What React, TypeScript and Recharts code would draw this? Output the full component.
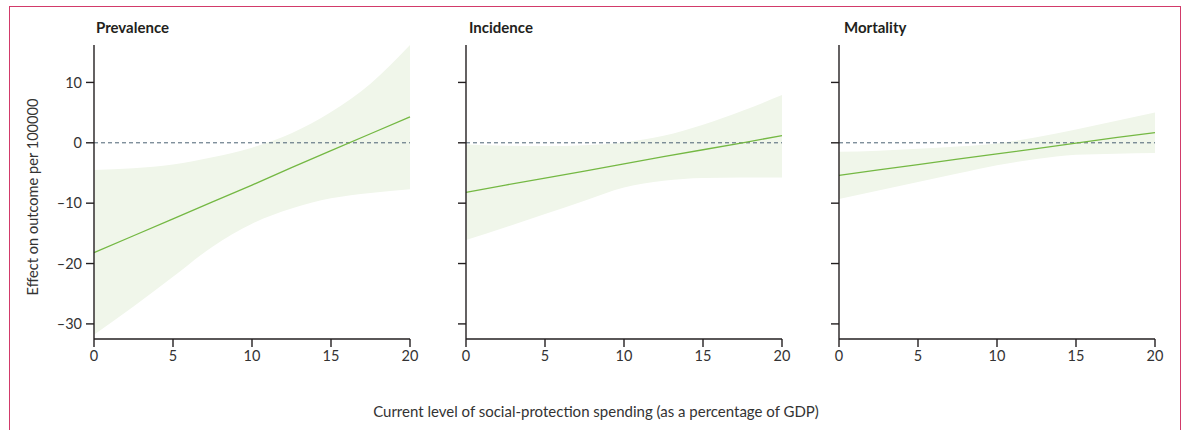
import React from 'react';
import { ComposedChart, Area, Line, XAxis, YAxis, ReferenceLine } from 'recharts';

// current social-protection spending (% of GDP)
const spending = [0, 2.5, 5, 7.5, 10, 12.5, 15, 17.5, 20];

const prevalenceEst = [-18.2, -15.4, -12.6, -9.8, -7.0, -4.1, -1.3, 1.5, 4.3];
const prevalenceLow = [-31.8, -27.1, -22.2, -17.2, -13.4, -10.9, -9.2, -8.3, -7.7];
const prevalenceHigh = [-4.5, -4.2, -3.6, -2.4, -0.8, 1.6, 5.1, 9.8, 16.2];

const incidenceEst = [-8.2, -7.0, -5.85, -4.7, -3.5, -2.3, -1.15, 0.0, 1.2];
const incidenceLow = [-16.1, -14.0, -11.8, -9.6, -7.4, -6.3, -5.85, -5.75, -5.75];
const incidenceHigh = [-0.3, -0.5, -0.55, -0.4, 0.05, 1.15, 3.0, 5.3, 7.9];

const mortalityEst = [-5.4, -4.5, -3.6, -2.7, -1.85, -0.95, -0.05, 0.85, 1.7];
const mortalityLow = [-9.3, -7.9, -6.5, -5.1, -3.7, -2.7, -2.0, -1.8, -1.7];
const mortalityHigh = [-1.5, -1.3, -1.0, -0.6, -0.1, 0.9, 2.2, 3.6, 5.0];

const xTicks = [0, 5, 10, 15, 20];
const yTicks = [-30, -20, -10, 0, 10];

const FONT = 'Lato, "Open Sans", sans-serif';
const INK = '#231f20';

const build = (est: number[], lo: number[], hi: number[]) =>
  spending.map((x, i) => ({ x, est: est[i], band: [lo[i], hi[i]] }));

const fmt = (v: number) => (v < 0 ? '\u2013' + Math.abs(v) : String(v));

type PanelProps = {
  title: string;
  data: { x: number; est: number; band: number[] }[];
  plotLeft: number;
  titleLeft: number;
  showYLabels?: boolean;
};

function Panel({ title, data, plotLeft, titleLeft, showYLabels }: PanelProps) {
  const axisW = 60;
  const tickStyle = { fill: '#333', fontSize: 14.5, fontFamily: FONT };
  return (
    <>
      <div
        style={{
          position: 'absolute',
          left: titleLeft,
          top: 19,
          fontFamily: FONT,
          fontWeight: 700,
          fontSize: 15,
          color: INK,
          lineHeight: '16px',
        }}
      >
        {title}
      </div>
      <div style={{ position: 'absolute', left: plotLeft - axisW, top: 0 }}>
        <ComposedChart
          width={axisW + 316 + 20}
          height={45 + 294 + 36}
          data={data}
          margin={{ top: 45, right: 20, bottom: 0, left: 0 }}
        >
          <XAxis
            type="number"
            dataKey="x"
            domain={[0, 20]}
            ticks={xTicks}
            height={36}
            tickSize={8}
            tickMargin={4}
            axisLine={{ stroke: INK, strokeWidth: 1.4 }}
            tickLine={{ stroke: INK, strokeWidth: 1.4 }}
            tick={tickStyle}
          />
          <YAxis
            type="number"
            domain={[-32.5, 16.2]}
            ticks={yTicks}
            allowDataOverflow
            width={axisW}
            tickSize={8}
            tickMargin={4}
            axisLine={{ stroke: INK, strokeWidth: 1.4 }}
            tickLine={{ stroke: INK, strokeWidth: 1.4 }}
            tickFormatter={fmt}
            tick={showYLabels ? tickStyle : () => <g />}
          />
          <Area
            type="monotone"
            dataKey="band"
            fill="#f0f6ea"
            fillOpacity={1}
            stroke="none"
            isAnimationActive={false}
          />
          <ReferenceLine y={0} stroke="#4a6272" strokeDasharray="4 3" strokeWidth={1} />
          <Line
            type="linear"
            dataKey="est"
            stroke="#74b843"
            strokeWidth={1.3}
            dot={false}
            activeDot={false}
            isAnimationActive={false}
          />
        </ComposedChart>
      </div>
    </>
  );
}

export default function App() {
  return (
    <div
      style={{
        position: 'absolute',
        left: 0,
        top: 0,
        width: 1184,
        height: 430,
        background: '#fff',
        overflow: 'hidden',
      }}
    >
      <div
        style={{
          position: 'absolute',
          left: 9,
          top: 6,
          width: 1172,
          height: 440,
          borderTop: '1.5px solid #d23a6a',
          borderLeft: '1.5px solid #d23a6a',
          borderRight: '1.5px solid #d23a6a',
          boxSizing: 'border-box',
        }}
      />
      <Panel
        title="Prevalence"
        data={build(prevalenceEst, prevalenceLow, prevalenceHigh)}
        plotLeft={94}
        titleLeft={96}
        showYLabels
      />
      <Panel
        title="Incidence"
        data={build(incidenceEst, incidenceLow, incidenceHigh)}
        plotLeft={466}
        titleLeft={469}
      />
      <Panel
        title="Mortality"
        data={build(mortalityEst, mortalityLow, mortalityHigh)}
        plotLeft={839}
        titleLeft={844}
      />
      <div
        style={{
          position: 'absolute',
          left: 32,
          top: 197,
          transform: 'translate(-50%, -50%) rotate(-90deg)',
          whiteSpace: 'nowrap',
          fontFamily: FONT,
          fontSize: 14.6,
          color: '#333',
        }}
      >
        Effect on outcome per 100000
      </div>
      <div
        style={{
          position: 'absolute',
          left: 596,
          top: 411,
          transform: 'translate(-50%, -50%)',
          whiteSpace: 'nowrap',
          fontFamily: FONT,
          fontSize: 15,
          color: '#333',
        }}
      >
        Current level of social-protection spending (as a percentage of GDP)
      </div>
    </div>
  );
}
